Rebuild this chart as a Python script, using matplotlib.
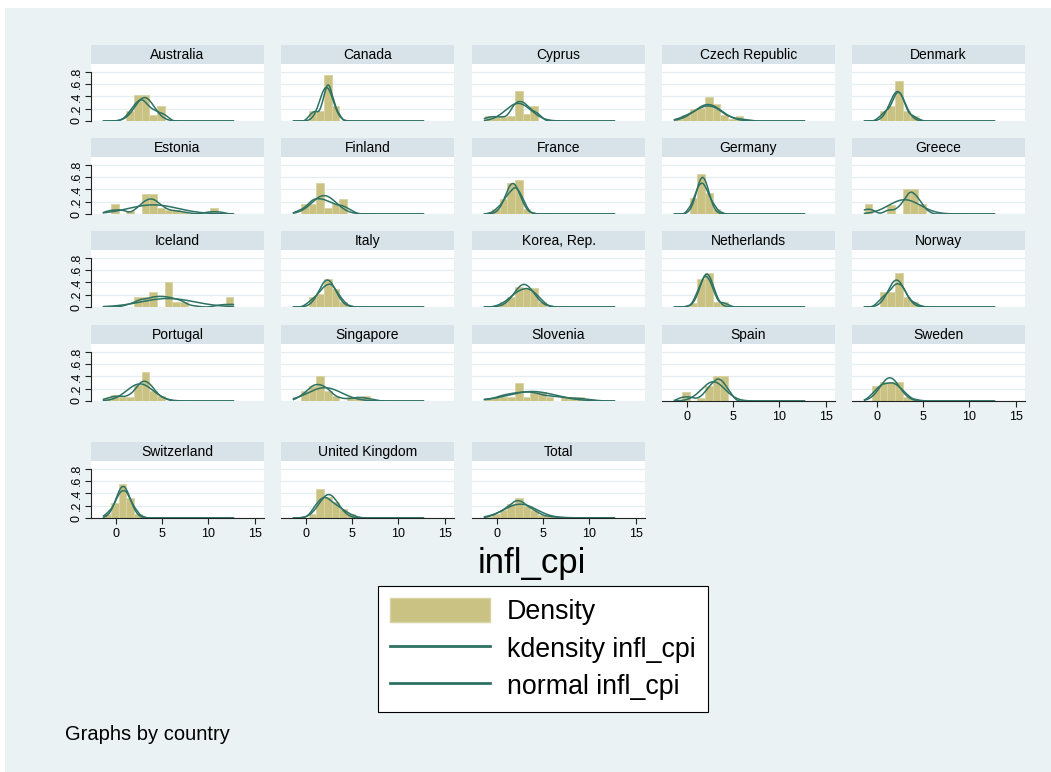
import numpy as np
import matplotlib.pyplot as plt
from matplotlib.patches import Rectangle, Patch
from matplotlib.lines import Line2D

plt.rcParams['font.family'] = ['Liberation Sans', 'DejaVu Sans']

# histogram bins shared by every panel (17 bins over the data range)
x_lo, x_hi = -1.3, 12.7
n_bins = 17
n_years = 14

countries = ['Australia', 'Canada', 'Cyprus', 'Czech Republic', 'Denmark',
             'Estonia', 'Finland', 'France', 'Germany', 'Greece',
             'Iceland', 'Italy', 'Korea, Rep.', 'Netherlands', 'Norway',
             'Portugal', 'Singapore', 'Slovenia', 'Spain', 'Sweden',
             'Switzerland', 'United Kingdom']

# bar heights (density) per bin, bins 0..16
australia   = [0, 0, 0, .17, .42, .42, .09, .25, 0, 0, 0, 0, 0, 0, 0, 0, 0]
canada      = [0, 0, .17, .17, .75, .25, 0, 0, 0, 0, 0, 0, 0, 0, 0, 0, 0]
cyprus      = [.08, .06, .06, .08, .49, .12, .24, 0, 0, 0, 0, 0, 0, 0, 0, 0, 0]
czech       = [.03, .10, .20, .22, .39, .27, .10, .03, .08, 0, 0, 0, 0, 0, 0, 0, 0]
denmark     = [0, 0, .16, .24, .65, .16, .08, 0, 0, 0, 0, 0, 0, 0, 0, 0, 0]
estonia     = [0, .17, 0, .05, 0, .33, .33, .09, .06, .06, .04, 0, 0, 0, .10, 0, 0]
finland     = [0, .17, .17, .50, .10, .17, .25, 0, 0, 0, 0, 0, 0, 0, 0, 0, 0]
france      = [0, .08, .25, .50, .55, .08, 0, 0, 0, 0, 0, 0, 0, 0, 0, 0, 0]
germany     = [0, 0, .26, .65, .34, .08, 0, 0, 0, 0, 0, 0, 0, 0, 0, 0, 0]
greece      = [.16, 0, 0, .14, 0, .41, .41, .17, 0, 0, 0, 0, 0, 0, 0, 0, 0]
iceland     = [0, 0, 0, 0, .16, .16, .24, 0, .40, .08, .08, 0, 0, 0, 0, 0, .16]
italy       = [0, 0, .16, .22, .46, .30, .08, 0, 0, 0, 0, 0, 0, 0, 0, 0, 0]
korea       = [0, 0, .08, .16, .32, .31, .31, .08, 0, 0, 0, 0, 0, 0, 0, 0, 0]
netherlands = [0, 0, .06, .46, .56, .08, .08, 0, 0, 0, 0, 0, 0, 0, 0, 0, 0]
norway      = [0, 0, .24, .24, .56, .16, .08, 0, 0, 0, 0, 0, 0, 0, 0, 0, 0]
portugal    = [.05, .10, .07, .07, .26, .47, .17, .08, 0, 0, 0, 0, 0, 0, 0, 0, 0]
singapore   = [0, .17, .25, .40, .17, .08, 0, .06, .06, .08, 0, 0, 0, 0, 0, 0, 0]
slovenia    = [.03, .07, .07, .07, .30, .07, .14, .15, .07, 0, .07, .07, .07, 0, 0, 0, 0]
spain       = [0, .15, 0, .05, .25, .41, .41, 0, 0, 0, 0, 0, 0, 0, 0, 0, 0]
sweden      = [0, .24, .31, .31, .31, .07, .03, 0, 0, 0, 0, 0, 0, 0, 0, 0, 0]
switzerland = [.07, .24, .56, .32, .07, 0, 0, 0, 0, 0, 0, 0, 0, 0, 0, 0, 0]
uk          = [0, 0, .07, .47, .35, .26, .14, .07, 0, 0, 0, 0, 0, 0, 0, 0, 0]

densities = [australia, canada, cyprus, czech, denmark, estonia, finland,
             france, germany, greece, iceland, italy, korea, netherlands,
             norway, portugal, singapore, slovenia, spain, sweden,
             switzerland, uk]

y_ticks = [0, .2, .4, .6, .8]
y_labels = ['0', '.2', '.4', '.6', '.8']
x_ticks = [0, 5, 10, 15]

khaki = '#C9C282'
khaki_edge = '#D8D3A4'
teal = '#2D7264'
strip_col = '#D7E3E8'
bg_col = '#EAF2F3'

edges = np.linspace(x_lo, x_hi, n_bins + 1)
bw = edges[1] - edges[0]
centers = edges[:-1] + bw / 2
grid = np.linspace(x_lo, x_hi, 300)


def norm_dens(d):
    d = np.asarray(d, float)
    return d / (d.sum() * bw)


def fit_curves(dens, n):
    p = np.asarray(dens, float)
    p = p / p.sum()
    mu = np.sum(p * centers)
    sd = np.sqrt(np.sum(p * (centers - mu) ** 2))
    cdf = np.concatenate([[0], np.cumsum(p)])
    q25, q75 = np.interp([0.25, 0.75], cdf, edges)
    spread = min(sd, (q75 - q25) / 1.349) if q75 > q25 else sd
    h = 0.9 * spread * n ** -0.2
    # spread each bin's share evenly over the bin before smoothing
    sub = 8
    pts = (edges[:-1, None] + bw * (np.arange(sub) + 0.5)[None, :] / sub).ravel()
    wts = np.repeat(p / sub, sub)
    z = (grid[:, None] - pts[None, :]) / h
    kern = np.where(np.abs(z) < np.sqrt(5), 0.75 * (1 - z ** 2 / 5) / np.sqrt(5), 0)
    kd = (kern * wts).sum(axis=1) / h
    nd = np.exp(-0.5 * ((grid - mu) / sd) ** 2) / (sd * np.sqrt(2 * np.pi))
    return kd, nd


total = np.mean([norm_dens(d) for d in densities], axis=0)
panel_names = countries + ['Total']
panel_dens = densities + [list(total)]
panel_n = [n_years] * len(countries) + [n_years * len(countries)]

W, H = 1051, 772
fig = plt.figure(figsize=(W / 100, H / 100), dpi=100, facecolor='white')
fig.patches.append(Rectangle((5 / W, 0), 1, 1 - 8 / H, transform=fig.transFigure,
                             facecolor=bg_col, edgecolor='none', zorder=-10))


def box(left, top, width, height):
    return [left / W, 1 - (top + height) / H, width / W, height / H]


col_left = [91, 281, 472, 662, 852]
row_top = [45, 138, 231, 325, 442]
pw, strip_h, plot_h = 173, 19, 57

for i, name in enumerate(panel_names):
    r, c = divmod(i, 5)
    left, top = col_left[c], row_top[r]

    st = fig.add_axes(box(left, top, pw, strip_h))
    st.set_facecolor(strip_col)
    st.set_xticks([])
    st.set_yticks([])
    for s in st.spines.values():
        s.set_visible(False)
    st.text(0.5, 0.45, name, ha='center', va='center', fontsize=10,
            transform=st.transAxes)

    ax = fig.add_axes(box(left, top + strip_h, pw, plot_h))
    ax.set_facecolor('white')
    kd, nd = fit_curves(panel_dens[i], panel_n[i])
    ax.bar(centers, panel_dens[i], width=bw, color=khaki, edgecolor=khaki_edge,
           linewidth=0.6, zorder=2)
    ax.plot(grid, kd, color=teal, lw=1.1, zorder=3)
    ax.plot(grid, nd, color=teal, lw=1.1, zorder=3)
    ax.set_xlim(-2.65, 16.0)
    ax.set_ylim(0, 0.93)
    ax.set_yticks(y_ticks)
    ax.yaxis.grid(True, color='#E4EDF0', lw=0.9, zorder=0)
    ax.set_axisbelow(True)
    for s in ax.spines.values():
        s.set_visible(False)

    if c == 0:
        ax.spines['left'].set_visible(True)
        ax.spines['left'].set_bounds(0, 0.8)
        ax.spines['left'].set_color('#222222')
        ax.spines['left'].set_linewidth(0.8)
        ax.set_yticklabels(y_labels, rotation=90, va='center', fontsize=9)
        ax.tick_params(axis='y', length=4, width=0.8, color='#222222', pad=2)
    else:
        ax.tick_params(axis='y', length=0, labelleft=False)

    if r == 4 or (r == 3 and c >= 3):
        ax.spines['bottom'].set_visible(True)
        ax.spines['bottom'].set_color('#222222')
        ax.spines['bottom'].set_linewidth(0.8)
        ax.set_xticks(x_ticks)
        ax.tick_params(axis='x', length=4, width=0.8, color='#222222',
                       labelsize=9, pad=3)
    else:
        ax.set_xticks([])

fig.text(532 / W, 1 - 563 / H, 'infl_cpi', fontsize=25, ha='center', va='center')

handles = [Patch(facecolor=khaki, edgecolor=khaki_edge, linewidth=1),
           Line2D([], [], color=teal, lw=2),
           Line2D([], [], color=teal, lw=2)]
leg = fig.legend(handles, ['Density', 'kdensity infl_cpi', 'normal infl_cpi'],
                 loc='upper left', bbox_to_anchor=(378 / W, 1 - 586 / H),
                 fontsize=19.3, frameon=True, fancybox=False, edgecolor='black',
                 framealpha=1, handlelength=3.73, handleheight=1.0,
                 handletextpad=0.63, borderpad=0.45, labelspacing=0.38,
                 borderaxespad=0)
leg.get_frame().set_linewidth(0.8)

fig.text(65 / W, 1 - 735 / H, 'Graphs by country', fontsize=14.5, ha='left', va='center')

fig.savefig('out.png', dpi=100, facecolor='white')
